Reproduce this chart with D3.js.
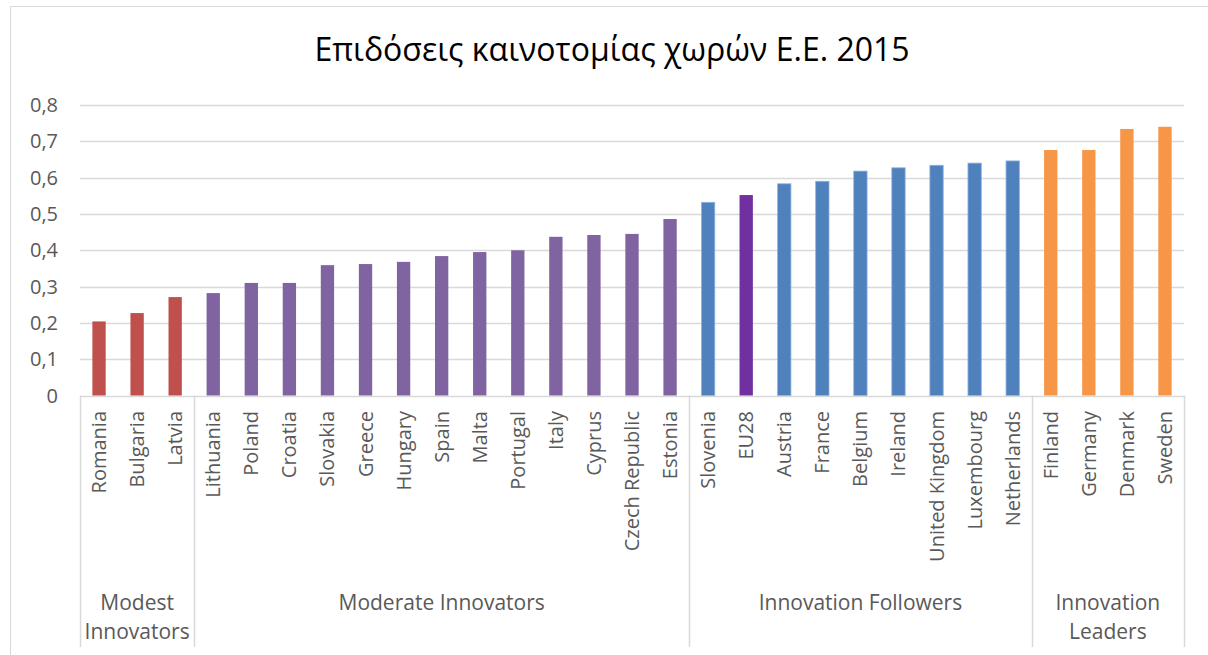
<!DOCTYPE html>
<html>
<head>
<meta charset="utf-8">
<script src="https://cdn.jsdelivr.net/npm/d3@7/dist/d3.min.js"></script>
<style>
  body { margin: 0; background: #fff; }
  svg { display: block; font-family: "Open Sans", sans-serif; }
</style>
</head>
<body>
<svg id="chart" width="1208" height="655"></svg>
<script>
var countries = ["Romania", "Bulgaria", "Latvia", "Lithuania", "Poland", "Croatia", "Slovakia", "Greece",
  "Hungary", "Spain", "Malta", "Portugal", "Italy", "Cyprus", "Czech Republic", "Estonia",
  "Slovenia", "EU28", "Austria", "France", "Belgium", "Ireland", "United Kingdom", "Luxembourg",
  "Netherlands", "Finland", "Germany", "Denmark", "Sweden"];
var values = [0.204, 0.227, 0.271, 0.282, 0.310, 0.310, 0.359, 0.362,
  0.368, 0.384, 0.395, 0.400, 0.437, 0.442, 0.445, 0.486,
  0.532, 0.552, 0.583, 0.590, 0.618, 0.627, 0.634, 0.640,
  0.646, 0.676, 0.676, 0.734, 0.740];
var groupNames = [["Modest", "Innovators"], ["Moderate Innovators"], ["Innovation Followers"], ["Innovation", "Leaders"]];
var groupSizes = [3, 13, 9, 4];
var groupColors = ["#c0504d", "#8064a2", "#4f81bd", "#f79646"];
var eu28Color = "#7030a0";
var yTicks = [0, 0.1, 0.2, 0.3, 0.4, 0.5, 0.6, 0.7, 0.8];
var title = "Επιδόσεις καινοτομίας χωρών Ε.Ε. 2015";

var svg = d3.select("#chart");
var plotLeft = 80, plotRight = 1184, plotTop = 105, plotBottom = 395.5;

// group index for each country
var groupOf = [];
groupSizes.forEach(function(n, g) { for (var i = 0; i < n; i++) groupOf.push(g); });

var x = d3.scaleBand().domain(countries).range([plotLeft, plotRight]).paddingInner(0.65).paddingOuter(0.325);
var y = d3.scaleLinear().domain([0, 0.8]).range([plotBottom, plotTop]);

// outer frame
svg.append("rect")
  .attr("x", 10.5).attr("y", 6.5).attr("width", 1220).attr("height", 700)
  .attr("fill", "#fff").attr("stroke", "#d9d9d9");

svg.append("text")
  .attr("x", 612).attr("y", 61)
  .attr("text-anchor", "middle")
  .style("font-size", "32px").style("fill", "#000")
  .text(title);

// gridlines + y labels
svg.append("g").selectAll("line").data(yTicks).enter().append("line")
  .attr("x1", plotLeft).attr("x2", plotRight)
  .attr("y1", function(d) { return Math.round(y(d)) + 0.5; })
  .attr("y2", function(d) { return Math.round(y(d)) + 0.5; })
  .attr("stroke", "#d9d9d9").attr("stroke-width", 1.5);

svg.append("g").selectAll("text").data(yTicks).enter().append("text")
  .attr("x", 58).attr("y", function(d) { return y(d); })
  .attr("dy", "0.35em").attr("text-anchor", "end")
  .style("font-size", "20px").style("fill", "#595959")
  .text(function(d) { return d === 0 ? "0" : d3.format(".1f")(d).replace(".", ","); });

// bars
svg.append("g").selectAll("rect").data(countries).enter().append("rect")
  .attr("x", function(d) { return x(d); })
  .attr("width", x.bandwidth())
  .attr("y", function(d, i) { return y(values[i]); })
  .attr("height", function(d, i) { return y(0) - y(values[i]); })
  .attr("fill", function(d, i) { return d === "EU28" ? eu28Color : groupColors[groupOf[i]]; })
  .attr("stroke", function(d, i) { return groupOf[i] === 2 && d !== "EU28" ? "#8db3e2" : "none"; })
  .attr("stroke-width", 0.8);

// category labels
svg.append("g").selectAll("text").data(countries).enter().append("text")
  .attr("transform", function(d) { return "translate(" + (x(d) + x.bandwidth() / 2) + ",411) rotate(-90)"; })
  .attr("dy", "0.35em").attr("text-anchor", "end")
  .style("font-size", "20px").style("fill", "#595959")
  .text(function(d) { return d; });

// group separators
var bounds = [0];
groupSizes.reduce(function(a, n) { bounds.push(a + n); return a + n; }, 0);
var step = x.step();
svg.append("g").selectAll("line").data(bounds).enter().append("line")
  .attr("x1", function(b) { return Math.round(plotLeft + b * step) + 0.5; })
  .attr("x2", function(b) { return Math.round(plotLeft + b * step) + 0.5; })
  .attr("y1", plotBottom).attr("y2", 647)
  .attr("stroke", "#d9d9d9").attr("stroke-width", 1.5);

// group labels
var glab = svg.append("g");
groupNames.forEach(function(lines, g) {
  var cx = plotLeft + (bounds[g] + bounds[g + 1]) / 2 * step;
  lines.forEach(function(t, k) {
    glab.append("text")
      .attr("x", cx).attr("y", 603 + k * 29)
      .attr("dy", "0.35em").attr("text-anchor", "middle")
      .style("font-size", "21px").style("fill", "#595959")
      .text(t);
  });
});
</script>
</body>
</html>
